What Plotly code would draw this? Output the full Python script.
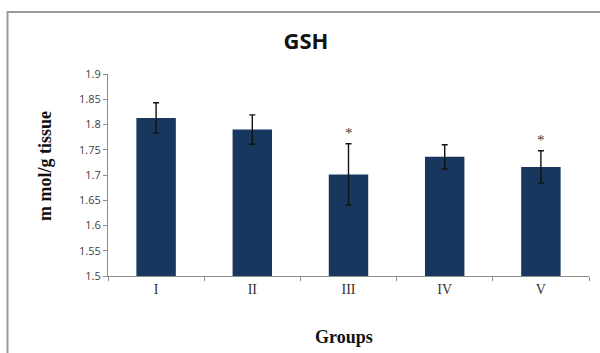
import plotly.graph_objects as go

# GSH level per group (mean ± SD), mmol/g tissue
groups = ["I", "II", "III", "IV", "V"]
gsh_mean = [1.813, 1.790, 1.701, 1.736, 1.716]
gsh_sd = [0.030, 0.029, 0.061, 0.024, 0.032]
significant = [False, False, True, False, True]

y_ticks = [1.5, 1.55, 1.6, 1.65, 1.7, 1.75, 1.8, 1.85, 1.9]
y_tick_text = ["1.5", "1.55", "1.6", "1.65", "1.7", "1.75", "1.8", "1.85", "1.9"]

bar_color = "#17375E"

# plot-area geometry in pixels
L, R, T, B = 108, 589, 74, 276
W, H = R - L, B - T


def px_x(x):
    return (x - L) / W


def px_y(y):
    return (B - y) / H


fig = go.Figure()
fig.add_trace(go.Bar(
    x=groups,
    y=gsh_mean,
    width=0.41,
    marker=dict(color=bar_color, line=dict(width=0)),
    error_y=dict(type="data", array=gsh_sd, visible=True,
                 color="#111111", thickness=1.4, width=3),
    showlegend=False,
))

# Significance markers above the error bars
for g, m, s, sig in zip(groups, gsh_mean, gsh_sd, significant):
    if sig:
        fig.add_annotation(x=g, y=m + s, text="*", showarrow=False,
                           xanchor="center", yanchor="bottom", yshift=1,
                           font=dict(family="Liberation Serif", size=15, color="#404040"))

# Axis titles
fig.add_annotation(xref="paper", yref="paper", x=px_x(45), y=px_y(166),
                   xanchor="center", yanchor="middle",
                   text="<b>m mol/g tissue</b>", textangle=-90, showarrow=False,
                   font=dict(family="Liberation Serif", size=18, color="#111111"))
fig.add_annotation(xref="paper", yref="paper", x=px_x(344), y=px_y(337),
                   xanchor="center", yanchor="middle",
                   text="<b>Groups</b>", showarrow=False,
                   font=dict(family="Liberation Serif", size=18, color="#111111"))

# Outer chart frame (left and top edges)
frame = dict(color="#9a9a9a", width=2)
fig.add_shape(type="path", xref="paper", yref="paper",
              path=f"M {px_x(7.5)},{px_y(353)} L {px_x(7.5)},{px_y(12)} L {px_x(600)},{px_y(12)}",
              line=frame)

fig.update_layout(
    width=600, height=353,
    margin=dict(l=L, r=600 - R, t=T, b=353 - B),
    paper_bgcolor="white", plot_bgcolor="white",
    title=dict(text="<b>GSH</b>", xref="container", yref="container",
               x=306 / 600, y=1 - 41 / 353, xanchor="center", yanchor="middle",
               font=dict(family="Open Sans", size=22, color="#111111")),
)
fig.update_xaxes(
    type="category", showline=True, linecolor="#8c8c8c", linewidth=1,
    ticks="outside", tickson="boundaries", ticklen=4, tickcolor="#8c8c8c",
    tickfont=dict(family="Liberation Serif", size=14, color="#333333"),
    showgrid=False, zeroline=False,
)
fig.update_yaxes(
    range=[1.5, 1.9], tickvals=y_ticks, ticktext=y_tick_text,
    showline=True, linecolor="#8c8c8c", linewidth=1,
    ticks="outside", ticklen=4, tickcolor="#8c8c8c",
    tickfont=dict(family="Open Sans", size=11, color="#404040"),
    showgrid=False, zeroline=False,
)

fig.write_html("out.html")
